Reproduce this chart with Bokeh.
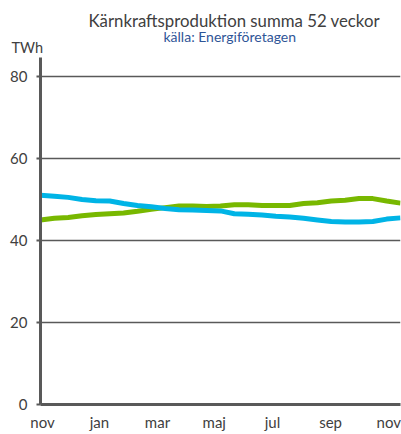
from bokeh.plotting import figure
from bokeh.models import Range1d, FixedTicker, Title, ColumnDataSource
from bokeh.embed import file_html
from bokeh.resources import INLINE

# data: every second week, from November to November
weeks = list(range(0, 53, 2))
series_blue = [51.0, 50.8, 50.5, 50.0, 49.7, 49.6, 49.0, 48.5, 48.2, 47.8, 47.5, 47.4, 47.3, 47.2,
               46.5, 46.4, 46.2, 45.9, 45.7, 45.4, 45.0, 44.6, 44.5, 44.5, 44.6, 45.2, 45.5]
series_green = [45.0, 45.4, 45.6, 46.0, 46.3, 46.5, 46.7, 47.1, 47.6, 48.0, 48.4, 48.4, 48.3, 48.4,
                48.7, 48.7, 48.5, 48.5, 48.5, 49.0, 49.2, 49.6, 49.8, 50.2, 50.2, 49.6, 49.1]
month_labels = ["nov", "jan", "mar", "maj", "jul", "sep", "nov"]
y_ticks = [0, 20, 40, 60, 80]

FONT = "Lato"
GREY = "#595959"
TXT = "#404040"

p = figure(frame_width=360, frame_height=347, output_backend="svg", toolbar_location=None,
           x_range=Range1d(0, 52), y_range=Range1d(0, 84.6), title=None,
           min_border_left=40, min_border_right=1, min_border_top=57, min_border_bottom=26)
p.outline_line_color = None
p.background_fill_color = "white"

src = ColumnDataSource(dict(w=weeks, blue=series_blue, green=series_green))
p.line("w", "green", source=src, line_color="#78B800", line_width=5)
p.line("w", "blue", source=src, line_color="#00B4E6", line_width=5)

# axes
tick_pos = [0.29, 8.52, 16.9, 25.1, 33.5, 41.9, 50.3]
p.xaxis.ticker = FixedTicker(ticks=tick_pos)
p.xaxis.major_label_overrides = {t: l for t, l in zip(tick_pos, month_labels)}
p.xaxis.major_tick_line_color = None
p.xaxis.minor_tick_line_color = None
p.xaxis.axis_line_color = GREY
p.xaxis.axis_line_width = 3
p.xaxis.major_label_standoff = 2
p.xaxis.major_label_text_font = FONT
p.xaxis.major_label_text_font_size = "15px"
p.xaxis.major_label_text_color = TXT

p.yaxis.ticker = FixedTicker(ticks=y_ticks)
p.yaxis.minor_tick_line_color = None
p.yaxis.major_tick_in = 0
p.yaxis.major_tick_out = 4
p.yaxis.major_tick_line_color = GREY
p.yaxis.major_tick_line_width = 2
p.yaxis.axis_line_color = GREY
p.yaxis.axis_line_width = 3
p.yaxis.major_label_standoff = 9
p.yaxis.major_label_text_font = FONT
p.yaxis.major_label_text_font_size = "15px"
p.yaxis.major_label_text_color = TXT

p.xgrid.grid_line_color = None
p.ygrid.ticker = FixedTicker(ticks=[20, 40, 60, 80])
p.ygrid.grid_line_color = GREY
p.ygrid.grid_line_width = 1.5

# titles (first added sits closest to the plot)
p.add_layout(Title(text="TWh", align="left", offset=-29, standoff=4,
                   text_font=FONT, text_font_size="14.5px", text_font_style="normal",
                   text_color=TXT), "above")
p.add_layout(Title(text="källa: Energiföretagen", align="left", offset=123, standoff=-21,
                   text_font=FONT, text_font_size="14px", text_font_style="normal",
                   text_color="#2F5597"), "above")
p.add_layout(Title(text="Kärnkraftsproduktion  summa 52 veckor", align="left", offset=48,
                   standoff=7, text_font=FONT, text_font_size="16.8px",
                   text_font_style="normal", text_color=TXT), "above")

open("out.html", "w").write(file_html(p, INLINE))
